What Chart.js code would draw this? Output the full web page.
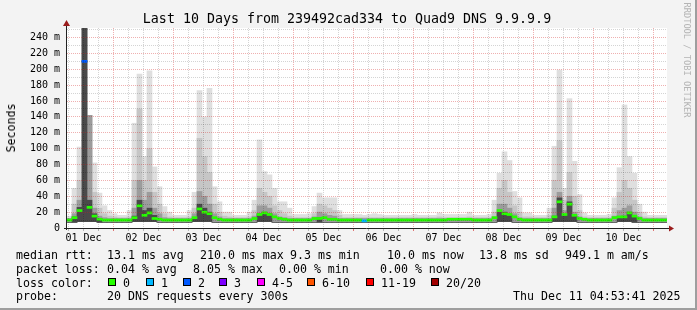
<!DOCTYPE html>
<html><head><meta charset="utf-8">
<script src="https://cdn.jsdelivr.net/npm/chart.js@4.4.1/dist/chart.umd.min.js"></script>
<style>
html,body{margin:0;padding:0;background:#f3f3f3;}
#wrap{position:relative;width:697px;height:310px;background:#f3f3f3;overflow:hidden;font-family:'DejaVu Sans Mono',monospace;color:#000;box-sizing:border-box;}
#wrap canvas{position:absolute;left:0;top:0;}
#frameR{position:absolute;right:0;top:0;width:2px;height:310px;background:#9e9e9e;}
#frameB{position:absolute;left:0;bottom:0;width:697px;height:2px;background:#9e9e9e;}
.t{position:absolute;white-space:pre;font-size:11.6px;line-height:14px;}
.box{position:absolute;width:6px;height:6px;border:1px solid #000;}
#title{position:absolute;top:11px;left:347px;transform:translateX(-50%);font-size:13.3px;line-height:16px;white-space:pre;}
#ylab{position:absolute;left:10.5px;top:127.5px;transform:translate(-50%,-50%) rotate(-90deg);font-size:11.6px;line-height:14px;white-space:pre;}
#credit{position:absolute;left:686.5px;top:60px;transform:translate(-50%,-50%) rotate(90deg);font-size:8.7px;line-height:10px;white-space:pre;color:#b4b4b4;}
</style>
</head><body>
<div id="wrap">
<canvas id="c" width="697" height="310"></canvas>
<div id="title">Last 10 Days from 239492cad334 to Quad9 DNS 9.9.9.9</div>
<div id="ylab">Seconds</div>
<div id="credit">RRDTOOL / TOBI OETIKER</div>
<div id="legend"></div>
<div id="frameR"></div><div id="frameB"></div>
</div>
<script>
// ---- data (2-hour bins, starting Dec 1 05:24) ----
const dayLabels = ['01 Dec','02 Dec','03 Dec','04 Dec','05 Dec','06 Dec','07 Dec','08 Dec','09 Dec','10 Dec'];
const yTickValues = [0,20,40,60,80,100,120,140,160,180,200,220,240];
const yTickLabels = ['0','20 m','40 m','60 m','80 m','100 m','120 m','140 m','160 m','180 m','200 m','220 m','240 m'];

const medianRtt = [
 10,13,22,210,26,15,11,10,10,10,10,10,
 10,13,28,16,19,12,11,10,10,10,10,10,
 10,13,24,20,18,13,11,10,10,10,10,10,
 10,12,17,19,17,14,12,11,10,10,10,10,
 10,12,12,13,11,11,10,10,10,10,10,9,
 10,10,10,10,10,10,10,10,10,10,10,10,
 10,10,10,10,11,11,11,11,11,10,10,10,
 10,13,22,18,17,14,11,10,10,10,10,10,
 10,14,33,17,30,16,12,11,10,10,10,10,
 10,13,14,14,19,15,12,10,10,10,10,10];
const lossCount = [
 0,0,0,2,0,0,0,0,0,0,0,0,
 0,0,0,0,0,0,0,0,0,0,0,0,
 0,0,0,0,0,0,0,0,0,0,0,0,
 0,0,0,0,0,0,0,0,0,0,0,0,
 0,0,0,0,0,0,0,0,0,0,0,1,
 0,0,0,0,0,0,0,0,0,0,0,0,
 0,0,0,0,0,0,0,0,0,0,0,0,
 0,0,0,0,0,0,0,0,0,0,0,0,
 0,0,0,0,0,0,0,0,0,0,0,0,
 0,0,0,0,0,0,0,0,0,0,0,0];
const smokeMin = [
 7,7,8,8,8,8,7,7,7,7,7,7,
 7,8,8,8,8,8,7,7,7,7,7,7,
 7,8,8,8,8,7,7,7,7,7,7,7,
 7,7,8,8,8,7,7,7,7,7,7,7,
 7,7,7,7,7,7,7,7,7,7,7,7,
 7,7,7,7,7,7,7,7,7,7,7,7,
 7,7,7,7,7,7,7,7,7,7,7,7,
 7,7,8,8,8,7,7,7,7,7,7,7,
 7,8,8,8,8,8,7,7,7,7,7,7,
 7,7,8,8,8,7,7,7,7,7,7,7];
const smokeMax = [
 15,50,102,252,142,82,44,28,22,18,16,16,
 22,132,194,90,198,77,52,27,20,16,16,16,
 22,45,173,140,176,52,33,20,20,16,16,16,
 20,35,111,71,67,50,33,33,25,17,17,17,
 18,27,44,38,38,38,22,17,17,17,17,16,
 17,18,17,16,16,16,16,16,16,17,16,16,
 16,16,19,17,17,17,17,17,20,16,16,16,
 17,35,69,96,85,46,38,19,19,16,16,16,
 25,103,199,50,163,84,42,19,16,16,16,16,
 17,38,76,155,90,69,30,20,16,16,16,16];
const smokeHigh = [
 12,30,60,252,142,45,25,18,15,14,13,13,
 14,60,150,60,100,45,30,18,14,13,13,13,
 14,25,113,90,70,30,20,15,14,13,13,13,
 14,22,50,45,40,28,22,18,15,13,13,13,
 13,18,30,28,25,22,16,13,13,13,13,13,
 13,13,13,13,13,13,13,13,13,13,13,13,
 13,13,14,13,13,13,13,13,14,13,13,13,
 13,20,50,60,45,28,20,14,14,13,13,13,
 16,60,110,35,70,40,22,14,13,13,13,13,
 13,25,45,60,50,35,20,14,13,13,13,13];
const smokeCore = [
 12,18,35,252,142,25,15,13,12,12,12,12,
 12,25,60,35,45,25,18,13,12,12,12,12,
 12,18,46,40,30,18,14,12,12,12,12,12,
 12,15,28,28,25,18,14,13,12,12,12,12,
 12,14,20,18,16,15,12,12,12,12,12,12,
 12,12,12,12,12,12,12,12,12,12,12,12,
 12,12,12,12,12,12,12,12,12,12,12,12,
 12,14,30,30,25,18,13,12,12,12,12,12,
 12,25,45,22,40,20,14,12,12,12,12,12,
 12,15,22,25,28,20,14,12,12,12,12,12];
const smokeInner = [
 7,14,26,252,35,18,12,7,7,7,7,7,
 7,15,35,22,25,16,7,7,7,7,7,7,
 7,12,30,25,20,7,7,7,7,7,7,7,
 7,7,18,20,18,7,7,7,7,7,7,7,
 7,7,13,7,7,7,7,7,7,7,7,7,
 7,7,7,7,7,7,7,7,7,7,7,7,
 7,7,7,7,7,7,7,7,7,7,7,7,
 7,7,20,20,16,7,7,7,7,7,7,7,
 7,15,38,16,33,15,7,7,7,7,7,7,
 7,7,14,15,20,14,7,7,7,7,7,7];

const lossLabels = ['0','1','2','3','4-5','6-10','11-19','20/20'];
const lossColors = ['#26ff00','#00b8ff','#0059ff','#7e00ff','#ff00ff','#ff5500','#ff0000','#a10000'];

const statsRtt = ['median rtt:','13.1 ms avg','210.0 ms max','9.3 ms min','10.0 ms now','13.8 ms sd','949.1 m am/s'];
const statsLoss = ['packet loss:','0.04 % avg','8.05 % max','0.00 % min','0.00 % now'];
const probeText = ['probe:','20 DNS requests every 300s'];
const stampText = 'Thu Dec 11 04:53:41 2025';

// ---- layout ----
const T0 = 5.4, BIN = 2, SPAN = 240;
const binCenters = medianRtt.map((_, i) => T0 + BIN * i + BIN / 2);
const common = {grouped:false, barPercentage:1, categoryPercentage:1, borderWidth:0};
function band(top, color){
  return Object.assign({data: top.map((v,i)=>({x: binCenters[i], y:[smokeMin[i], v]})), backgroundColor: color}, common);
}
const lossIdx = n => n===0?0:n===1?1:n===2?2:n===3?3:n<=5?4:n<=10?5:n<=19?6:7;
const medianDs = Object.assign({
  data: medianRtt.map((m,i)=>({x: binCenters[i], y:[m-1.3, m+1.3]})),
  backgroundColor: lossCount.map(n=>lossColors[lossIdx(n)])
}, common);

const MAJOR = 'rgba(210,30,30,0.35)', MINOR = 'rgba(0,0,0,0.17)';
const rrdPlugin = {
  id:'rrd',
  beforeDatasetsDraw(chart){
    const {ctx, chartArea:a} = chart;
    ctx.save(); ctx.fillStyle='#fff'; ctx.fillRect(a.left, a.top, a.right-a.left, a.bottom-a.top); ctx.restore();
  },
  afterDatasetsDraw(chart){
    const {ctx, chartArea:a, scales:{x,y}} = chart;
    ctx.save(); ctx.lineWidth=1; ctx.setLineDash([1,1]);
    for (let h = Math.ceil(x.min/6)*6; h <= x.max; h += 6){
      const px = Math.floor(x.getPixelForValue(h)) + 0.5;
      ctx.strokeStyle = h%24===0 ? MAJOR : MINOR;
      ctx.beginPath(); ctx.moveTo(px, a.top); ctx.lineTo(px, a.bottom); ctx.stroke();
    }
    for (let v = 10; v <= y.max; v += 10){
      const py = Math.floor(y.getPixelForValue(v)) + 0.5;
      ctx.strokeStyle = v%20===0 ? MAJOR : MINOR;
      ctx.beginPath(); ctx.moveTo(a.left, py); ctx.lineTo(a.right, py); ctx.stroke();
    }
    ctx.setLineDash([]);
    // small ticks under the x axis
    for (let h = Math.ceil(x.min/6)*6; h <= x.max; h += 6){
      const px = Math.floor(x.getPixelForValue(h)) + 0.5;
      ctx.strokeStyle = h%24===0 ? 'rgba(210,30,30,0.6)' : 'rgba(0,0,0,0.25)';
      ctx.beginPath(); ctx.moveTo(px, a.bottom+1); ctx.lineTo(px, a.bottom+3); ctx.stroke();
    }
    // axes
    ctx.strokeStyle = '#222';
    ctx.beginPath(); ctx.moveTo(a.left-0.5, a.bottom+2); ctx.lineTo(a.left-0.5, a.top-4); ctx.stroke();
    ctx.beginPath(); ctx.moveTo(a.left-3, a.bottom+0.5); ctx.lineTo(a.right+2, a.bottom+0.5); ctx.stroke();
    ctx.fillStyle = '#9a1c1c';
    ctx.beginPath(); ctx.moveTo(a.left-0.5, a.top-8); ctx.lineTo(a.left-4, a.top-2); ctx.lineTo(a.left+3, a.top-2); ctx.closePath(); ctx.fill();
    ctx.beginPath(); ctx.moveTo(a.right+7, a.bottom+0.5); ctx.lineTo(a.right+2, a.bottom-2.5); ctx.lineTo(a.right+2, a.bottom+3.5); ctx.closePath(); ctx.fill();
    ctx.restore();
  }
};

new Chart(document.getElementById('c'), {
  type:'bar',
  data:{datasets:[
    medianDs,
    band(smokeInner,'#4a4a4a'),
    band(smokeCore,'#9c9c9c'),
    band(smokeHigh,'#c6c6c6'),
    band(smokeMax,'#dfdfdf')
  ]},
  options:{
    responsive:false, animation:false, devicePixelRatio:1,
    layout:{padding:{top:28,right:30,bottom:0,left:0}},
    plugins:{legend:{display:false}, tooltip:{enabled:false}},
    scales:{
      x:{type:'linear', min:T0, max:T0+SPAN, offset:false,
        grid:{display:false, drawTicks:false}, border:{display:false},
        afterBuildTicks:(s)=>{ s.ticks = dayLabels.map((_,d)=>({value: d*24+12})); },
        afterFit:(s)=>{ s.height = 82; },
        ticks:{autoSkip:false, maxRotation:0, padding:4, color:'#000',
          font:{family:"'DejaVu Sans Mono'", size:10},
          callback:(v,i)=>dayLabels[i]}
      },
      y:{type:'linear', min:0, max:252,
        grid:{display:false, drawTicks:false}, border:{display:false},
        afterBuildTicks:(s)=>{ s.ticks = yTickValues.map(v=>({value:v})); },
        afterFit:(s)=>{ s.width = 67; },
        ticks:{padding:7, color:'#000', font:{family:"'DejaVu Sans Mono'", size:10},
          callback:(v,i)=>yTickLabels[i]}
      }
    }
  },
  plugins:[rrdPlugin]
});

// ---- legend text ----
const lg = document.getElementById('legend');
function put(txt, x, top){ const d=document.createElement('div'); d.className='t'; d.textContent=txt; d.style.left=x+'px'; d.style.top=top+'px'; lg.appendChild(d); }
const rttX = [16,107,200,290,387,479,565];
statsRtt.forEach((s,i)=>put(s, rttX[i], 247.5));
const lossX = [16,107,193,279,380];
statsLoss.forEach((s,i)=>put(s, lossX[i], 261.5));
put('loss color:', 16, 275.5);
const boxX = [108,146,183,219,257,307,366,431];
lossLabels.forEach((s,i)=>{
  const b=document.createElement('div'); b.className='box'; b.style.left=boxX[i]+'px'; b.style.top='278px'; b.style.background=lossColors[i]; lg.appendChild(b);
  put(s, boxX[i]+15, 275.5);
});
put(probeText[0], 16, 289);
put(probeText[1], 107, 289);
put(stampText, 513, 289);
</script>
</body></html>
